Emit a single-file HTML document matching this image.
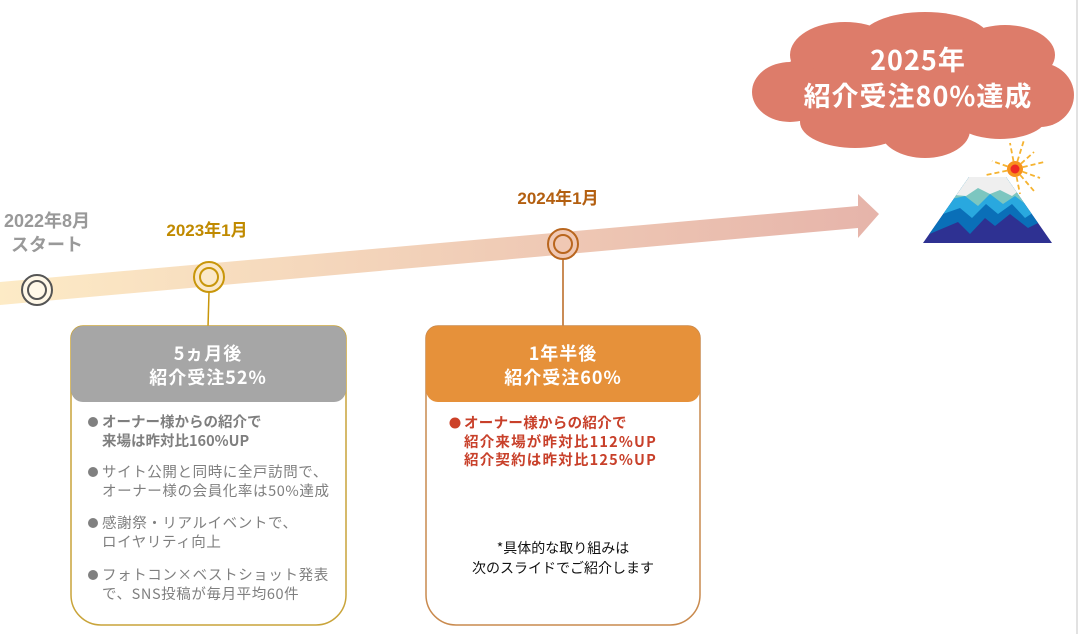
<!DOCTYPE html>
<html><head><meta charset="utf-8"><style>
body{margin:0;width:1079px;height:634px;background:#fff;overflow:hidden;font-family:"Liberation Sans","Noto Sans CJK JP",sans-serif}
</style></head><body>
<svg width="1079" height="634" viewBox="0 0 1079 634" xmlns="http://www.w3.org/2000/svg" style="position:absolute;left:0;top:0;font-family:'Noto Sans CJK JP',sans-serif">
<defs>
<linearGradient id="g" x1="0" y1="0" x2="1" y2="0"><stop offset="0" stop-color="#fdebc6"/><stop offset="1" stop-color="#e6b4aa"/></linearGradient>
<clipPath id="mt"><polygon points="969,177 1006,177 1052,243 923,243"/></clipPath>
</defs>
<polygon points="0,282 858,206 858,194 879,214 858,238 858,228 0,305" fill="url(#g)"/>
<line x1="1077" y1="0" x2="1077" y2="634" stroke="#d8d8d8" stroke-width="1.5"/>
<circle cx="37" cy="290" r="15" fill="#fff8e8" stroke="#555" stroke-width="2"/><circle cx="37" cy="290" r="9" fill="none" stroke="#555" stroke-width="2"/>
<line x1="209" y1="292" x2="208" y2="327" stroke="#c8960a" stroke-width="1.5"/>
<circle cx="209" cy="277" r="15" fill="#fbe8c8" stroke="#c8960a" stroke-width="2"/><circle cx="209" cy="277" r="9" fill="none" stroke="#c8960a" stroke-width="2"/>
<line x1="563" y1="259" x2="563" y2="327" stroke="#b9661e" stroke-width="1.5"/>
<circle cx="563" cy="244" r="15" fill="#f0c8b4" stroke="#b9661e" stroke-width="2"/><circle cx="563" cy="244" r="9" fill="none" stroke="#b9661e" stroke-width="2"/>
<g font-family="'Liberation Sans','Noto Sans CJK JP',sans-serif" font-weight="bold" text-anchor="middle">
<text x="47" y="227" font-size="18" fill="#999">2022年8月</text>
<text x="47" y="251" font-size="18" fill="#999">スタート</text>
<text x="207" y="236" font-size="17" fill="#c08a00">2023年1月</text>
<text x="558" y="204" font-size="17" fill="#b35f10">2024年1月</text>
</g>
<path d="M71,338 a12,12 0 0 1 12,-12 h251 a12,12 0 0 1 12,12 V595 a30,30 0 0 1 -30,30 H101 a30,30 0 0 1 -30,-30 Z" fill="#fff" stroke="#c9a43a" stroke-width="1.5"/>
<path d="M71,338 a12,12 0 0 1 12,-12 h251 a12,12 0 0 1 12,12 V390 a12,12 0 0 1 -12,12 H83 a12,12 0 0 1 -12,-12 Z" fill="#a6a6a6"/>
<text x="208" y="360" font-size="18" font-weight="bold" fill="#fff" text-anchor="middle" letter-spacing="1">5ヵ月後</text>
<text x="208" y="384" font-size="18" font-weight="bold" fill="#fff" text-anchor="middle" letter-spacing="1">紹介受注52%</text>
<g font-size="14.5" fill="#7f7f7f" letter-spacing="0.6">
<circle cx="93" cy="422" r="5" fill="#808080"/>
<text x="102" y="427" font-weight="bold" letter-spacing="0">オーナー様からの紹介で</text>
<text x="102" y="446" font-weight="bold" letter-spacing="0">来場は昨対比160%UP</text>
<circle cx="93" cy="472" r="5" fill="#808080"/>
<text x="102" y="477">サイト公開と同時に全戸訪問で、</text>
<text x="102" y="496">オーナー様の会員化率は50%達成</text>
<circle cx="93" cy="523" r="5" fill="#808080"/>
<text x="102" y="528">感謝祭・リアルイベントで、</text>
<text x="102" y="547">ロイヤリティ向上</text>
<circle cx="93" cy="575" r="5" fill="#808080"/>
<text x="102" y="580">フォトコン×ベストショット発表</text>
<text x="102" y="599">で、SNS投稿が毎月平均60件</text>
</g>
<path d="M426,338 a12,12 0 0 1 12,-12 h250 a12,12 0 0 1 12,12 V595 a30,30 0 0 1 -30,30 H456 a30,30 0 0 1 -30,-30 Z" fill="#fff" stroke="#c98a4e" stroke-width="1.5"/>
<path d="M426,338 a12,12 0 0 1 12,-12 h250 a12,12 0 0 1 12,12 V390 a12,12 0 0 1 -12,12 H438 a12,12 0 0 1 -12,-12 Z" fill="#e6913a"/>
<text x="563" y="360" font-size="18" font-weight="bold" fill="#fff" text-anchor="middle" letter-spacing="1">1年半後</text>
<text x="563" y="384" font-size="18" font-weight="bold" fill="#fff" text-anchor="middle" letter-spacing="1">紹介受注60%</text>
<g font-size="14.5" fill="#c8402a" font-weight="bold">
<circle cx="455" cy="423" r="5.5" fill="#cc4128"/>
<text x="464" y="428" letter-spacing="0.3">オーナー様からの紹介で</text>
<text x="464" y="447" letter-spacing="1.2">紹介来場が昨対比112%UP</text>
<text x="464" y="465" letter-spacing="1.2">紹介契約は昨対比125%UP</text>
</g>
<text x="563" y="553" font-size="14" fill="#111" text-anchor="middle">*具体的な取り組みは</text>
<text x="563" y="573" font-size="14" fill="#111" text-anchor="middle">次のスライドでご紹介します</text>
<g fill="#dd7c6a">
<ellipse cx="912" cy="88" rx="150" ry="45"/>
<ellipse cx="845" cy="55" rx="55" ry="33"/>
<ellipse cx="925" cy="40" rx="65" ry="28"/>
<ellipse cx="1005" cy="55" rx="50" ry="30"/>
<ellipse cx="1040" cy="95" rx="34" ry="32"/>
<ellipse cx="790" cy="92" rx="38" ry="30"/>
<ellipse cx="855" cy="122" rx="55" ry="26"/>
<ellipse cx="925" cy="130" rx="45" ry="28"/>
<ellipse cx="1000" cy="115" rx="48" ry="24"/>
</g>
<text x="918" y="70" font-size="27" font-weight="bold" fill="#fff" text-anchor="middle" letter-spacing="1">2025年</text>
<text x="918" y="106" font-size="27" font-weight="bold" fill="#fff" text-anchor="middle" letter-spacing="1">紹介受注80%達成</text>
<g stroke="#f5b330" stroke-width="1.8" stroke-dasharray="5,3">
<line x1="1015" y1="169" x2="1024" y2="140"/><line x1="1015" y1="169" x2="1010" y2="143"/><line x1="1015" y1="169" x2="1034" y2="152"/><line x1="1015" y1="169" x2="1044" y2="162"/><line x1="1015" y1="169" x2="1040" y2="178"/><line x1="1015" y1="169" x2="1034" y2="191"/><line x1="1015" y1="169" x2="1020" y2="194"/><line x1="1015" y1="169" x2="986" y2="175"/><line x1="1015" y1="169" x2="992" y2="161"/></g>
<circle cx="1015" cy="169" r="8" fill="#f7931e"/><circle cx="1015" cy="169" r="4.5" fill="#ee2a24"/>
<g clip-path="url(#mt)">
<rect x="920" y="170" width="140" height="80" fill="#2e3192"/>
<polygon points="920,170 1060,170 1060,232 1040,222 1028,228 1010,214 995,226 985,218 970,234 958,222 920,238" fill="#0a6fb8"/>
<polygon points="920,170 1060,170 1060,214 1040,208 1025,218 1012,204 998,214 986,204 972,218 960,208 920,222" fill="#29a8df"/>
<polygon points="920,170 1060,170 1060,200 1040,196 1028,206 1015,196 1003,204 990,194 978,206 965,196 920,206" fill="#7cc6c0"/>
<polygon points="920,170 1060,170 1060,190 1025,186 1012,196 1000,190 990,194 978,188 966,196 920,192" fill="#efefef"/>
</g>
</svg>
</body></html>
